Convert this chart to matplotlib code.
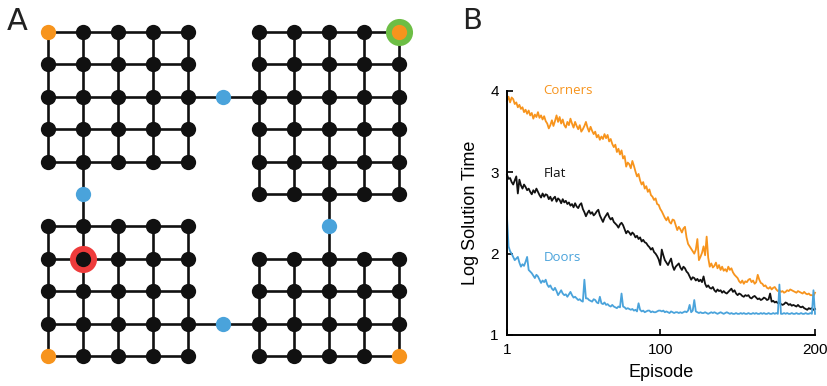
import matplotlib
matplotlib.use("Agg")
import matplotlib.pyplot as plt

# ---------------- Panel A data (grid world) ----------------
# rooms as (row_start, row_end, col_start, col_end), rows counted from the top
ROOMS = [(0, 4, 0, 4), (0, 5, 6, 10), (6, 10, 0, 4), (7, 10, 6, 10)]
DOORS = [(2, 5), (5, 1), (6, 8), (9, 5)]
CORNERS = [(0, 0), (0, 10), (10, 0), (10, 10)]
GOAL = (0, 10)
START = (7, 1)

# ---------------- Panel B data ----------------
episodes = list(range(1, 201))
corners = [
    3.88, 3.93, 3.86, 3.92, 3.90, 3.84, 3.86, 3.80, 3.83, 3.78,
    3.80, 3.74, 3.77, 3.72, 3.76, 3.70, 3.73, 3.66, 3.71, 3.68,
    3.74, 3.67, 3.70, 3.65, 3.69, 3.63, 3.60, 3.54, 3.58, 3.64,
    3.57, 3.63, 3.70, 3.62, 3.68, 3.60, 3.65, 3.58, 3.55, 3.62,
    3.58, 3.66, 3.60, 3.55, 3.62, 3.57, 3.53, 3.58, 3.50, 3.53,
    3.57, 3.62, 3.55, 3.50, 3.56, 3.51, 3.47, 3.50, 3.43, 3.46,
    3.40, 3.44, 3.41, 3.47, 3.42, 3.46, 3.38, 3.41, 3.35, 3.31,
    3.34, 3.25, 3.29, 3.22, 3.27, 3.17, 3.20, 3.07, 3.12, 3.10,
    3.05, 3.14, 3.08, 3.01, 2.95, 2.98, 2.90, 2.85, 2.88, 2.80,
    2.83, 2.76, 2.79, 2.72, 2.70, 2.66, 2.68, 2.61, 2.60, 2.55,
    2.52, 2.48, 2.44, 2.41, 2.45, 2.39, 2.37, 2.42, 2.41, 2.35,
    2.29, 2.33, 2.30, 2.26, 2.31, 2.33, 2.20, 2.12, 2.09, 2.06,
    2.03, 2.00, 2.05, 2.18, 1.92, 1.96, 2.01, 2.09, 1.98, 2.21,
    1.95, 1.84, 1.88, 1.83, 1.85, 1.89, 1.82, 1.86, 1.80, 1.84,
    1.79, 1.81, 1.78, 1.84, 1.80, 1.82, 1.77, 1.74, 1.72, 1.70,
    1.66, 1.64, 1.67, 1.63, 1.66, 1.65, 1.68, 1.69, 1.65, 1.67,
    1.63, 1.65, 1.74, 1.68, 1.64, 1.63, 1.60, 1.61, 1.58, 1.57,
    1.59, 1.56, 1.58, 1.59, 1.56, 1.54, 1.55, 1.53, 1.54, 1.52,
    1.53, 1.55, 1.54, 1.56, 1.55, 1.54, 1.53, 1.52, 1.54, 1.53,
    1.52, 1.51, 1.53, 1.51, 1.50, 1.51, 1.49, 1.49, 1.48, 1.52,
]
flat = [
    2.97, 2.92, 2.93, 2.88, 2.85, 2.90, 2.95, 2.74, 2.91, 2.84,
    2.80, 2.85, 2.82, 2.78, 2.80, 2.76, 2.73, 2.78, 2.75, 2.80,
    2.76, 2.72, 2.69, 2.74, 2.70, 2.73, 2.72, 2.67, 2.70, 2.65,
    2.68, 2.70, 2.64, 2.68, 2.66, 2.62, 2.67, 2.63, 2.65, 2.61,
    2.63, 2.59, 2.61, 2.57, 2.62, 2.58, 2.56, 2.60, 2.62, 2.55,
    2.51, 2.46, 2.50, 2.53, 2.49, 2.51, 2.47, 2.49, 2.52, 2.54,
    2.47, 2.43, 2.39, 2.44, 2.47, 2.50, 2.45, 2.42, 2.44, 2.39,
    2.37, 2.35, 2.32, 2.36, 2.38, 2.35, 2.30, 2.25, 2.28, 2.26,
    2.23, 2.26, 2.24, 2.20, 2.22, 2.18, 2.20, 2.15, 2.17, 2.14,
    2.13, 2.10, 2.08, 2.05, 2.07, 2.02, 2.00, 1.97, 1.93, 1.86,
    2.05, 1.98, 1.92, 1.89, 1.86, 1.90, 1.94, 1.85, 1.80, 1.84,
    1.86, 1.88, 1.83, 1.80, 1.84, 1.82, 1.78, 1.76, 1.72, 1.68,
    1.71, 1.70, 1.67, 1.69, 1.66, 1.68, 1.65, 1.72, 1.63, 1.59,
    1.61, 1.58, 1.57, 1.59, 1.55, 1.53, 1.56, 1.54, 1.55, 1.52,
    1.54, 1.52, 1.51, 1.53, 1.55, 1.57, 1.53, 1.55, 1.51, 1.49,
    1.51, 1.50, 1.48, 1.47, 1.49, 1.48, 1.49, 1.46, 1.45, 1.47,
    1.48, 1.46, 1.44, 1.45, 1.43, 1.44, 1.46, 1.45, 1.43, 1.44,
    1.51, 1.41, 1.42, 1.40, 1.41, 1.39, 1.40, 1.38, 1.37, 1.38,
    1.40, 1.39, 1.37, 1.38, 1.36, 1.37, 1.36, 1.35, 1.37, 1.35,
    1.34, 1.35, 1.33, 1.32, 1.31, 1.33, 1.32, 1.33, 1.31, 1.32,
]
doors = [
    2.45, 2.09, 2.03, 2.00, 1.96, 1.92, 1.94, 1.96, 1.89, 1.84,
    1.87, 1.85, 1.90, 1.96, 1.80, 1.78, 1.76, 1.73, 1.70, 1.74,
    1.72, 1.68, 1.64, 1.67, 1.65, 1.68, 1.62, 1.59, 1.61, 1.57,
    1.55, 1.58, 1.54, 1.49, 1.52, 1.55, 1.51, 1.49, 1.50, 1.47,
    1.50, 1.53, 1.49, 1.46, 1.47, 1.45, 1.43, 1.44, 1.42, 1.41,
    1.68, 1.45, 1.45, 1.43, 1.42, 1.41, 1.44, 1.43, 1.40, 1.39,
    1.47, 1.39, 1.38, 1.40, 1.37, 1.38, 1.36, 1.35, 1.37, 1.35,
    1.34, 1.33, 1.35, 1.34, 1.51, 1.35, 1.34, 1.32, 1.33, 1.32,
    1.31, 1.32, 1.30, 1.31, 1.29, 1.39, 1.31, 1.29, 1.30, 1.28,
    1.29, 1.30, 1.30, 1.28, 1.29, 1.28, 1.28, 1.29, 1.30, 1.30,
    1.29, 1.30, 1.28, 1.29, 1.28, 1.27, 1.29, 1.28, 1.27, 1.28,
    1.28, 1.27, 1.28, 1.27, 1.28, 1.29, 1.28, 1.30, 1.37, 1.28,
    1.30, 1.43, 1.29, 1.28, 1.27, 1.28, 1.27, 1.27, 1.28, 1.27,
    1.26, 1.27, 1.28, 1.27, 1.28, 1.27, 1.26, 1.27, 1.28, 1.27,
    1.26, 1.27, 1.28, 1.27, 1.26, 1.27, 1.26, 1.26, 1.27, 1.26,
    1.26, 1.27, 1.26, 1.27, 1.26, 1.26, 1.27, 1.26, 1.26, 1.27,
    1.26, 1.27, 1.26, 1.26, 1.27, 1.26, 1.27, 1.26, 1.26, 1.27,
    1.26, 1.26, 1.27, 1.26, 1.27, 1.26, 1.62, 1.26, 1.26, 1.27,
    1.26, 1.27, 1.26, 1.26, 1.27, 1.26, 1.26, 1.27, 1.26, 1.26,
    1.27, 1.26, 1.26, 1.27, 1.26, 1.26, 1.27, 1.26, 1.55, 1.26,
]
series_names = ["Corners", "Flat", "Doors"]
x_ticks = [1, 100, 200]
y_ticks = [1, 2, 3, 4]

ORANGE = "#F7941D"
BLUE = "#4AA3DB"
BLACK = "#111111"
GREEN = "#6DBE45"
RED = "#EE3B3B"

plt.rcParams['font.family'] = ['Liberation Sans', 'DejaVu Sans']

fig = plt.figure(figsize=(8.28, 3.86), dpi=100)

# ---------------- Panel A ----------------
axA = fig.add_axes([0, 0, 0.5, 1])
axA.set_xlim(-48 / 35.1, (414 - 48) / 35.1)
axA.set_ylim((386 - 32) / 32.4, -32 / 32.4)
axA.axis('off')

nodes = set()
for r0, r1, c0, c1 in ROOMS:
    for r in range(r0, r1 + 1):
        for c in range(c0, c1 + 1):
            nodes.add((r, c))
door_set = set(DOORS)
all_nodes = nodes | door_set

edge_kw = dict(color=BLACK, lw=1.9, zorder=1, solid_capstyle='butt')
for (r, c) in sorted(all_nodes):
    for dr, dc in [(0, 1), (1, 0)]:
        nb = (r + dr, c + dc)
        if nb in all_nodes:
            axA.plot([c, nb[1]], [r, nb[0]], **edge_kw)

# highlight rings
axA.plot([GOAL[1]], [GOAL[0]], 'o', ms=19.5, color=GREEN, mec='none', zorder=2)
axA.plot([START[1]], [START[0]], 'o', ms=19.5, color=RED, mec='none', zorder=2)

plain = [n for n in sorted(nodes) if n not in CORNERS]
axA.plot([n[1] for n in plain], [n[0] for n in plain], 'o', ms=11,
         color=BLACK, mec='none', zorder=3)
axA.plot([n[1] for n in CORNERS], [n[0] for n in CORNERS], 'o', ms=11,
         color=ORANGE, mec='none', zorder=3)
axA.plot([d[1] for d in DOORS], [d[0] for d in DOORS], 'o', ms=11,
         color=BLUE, mec='none', zorder=3)

fig.text(7 / 828, 1 - 21 / 386, "A", fontsize=22, va='center', ha='left',
         color='#222222', family=['DejaVu Sans'])

# ---------------- Panel B ----------------
axB = fig.add_axes([507 / 828, 1 - 335 / 386, (815 - 507) / 828, (335 - 91) / 386])
colors = [ORANGE, BLACK, BLUE]
for ys, col in zip([corners, flat, doors], colors):
    axB.plot(episodes, ys, color=col, lw=1.3, clip_on=False)

axB.set_xlim(1, 200)
axB.set_ylim(1, 4)
axB.set_xticks(x_ticks)
axB.set_yticks(y_ticks)
axB.tick_params(direction='in', length=4, width=1.2, labelsize=11, pad=6)
for s in ['top', 'right']:
    axB.spines[s].set_visible(False)
for s in ['left', 'bottom']:
    axB.spines[s].set_linewidth(1.4)
axB.set_xlabel("Episode", fontsize=13, labelpad=5)
axB.set_ylabel("Log Solution Time", fontsize=13, labelpad=8)

label_pos = [(24.5, 4.01), (24.5, 2.99), (24.5, 1.95)]
for name, (lx, ly), col in zip(series_names, label_pos, colors):
    axB.text(lx, ly, name, color=col, fontsize=9.5, va='center', ha='left',
             family=['Open Sans', 'DejaVu Sans'])

fig.text(462 / 828, 1 - 21 / 386, "B", fontsize=21, va='center', ha='left',
         color='#222222', family=['DejaVu Sans'])

fig.savefig("out.png", dpi=100)
